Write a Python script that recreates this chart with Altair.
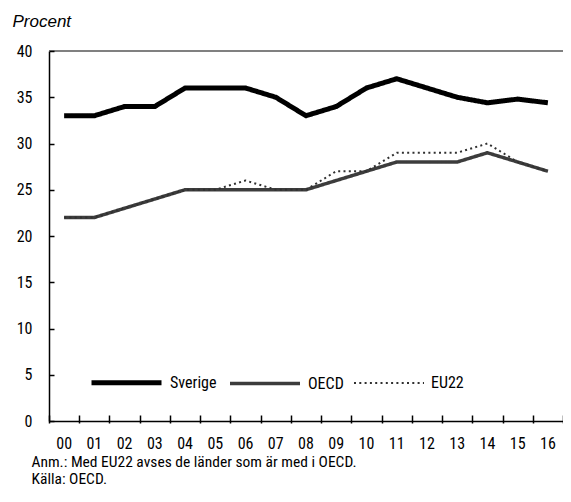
import altair as alt
import pandas as pd

years = ["00", "01", "02", "03", "04", "05", "06", "07", "08", "09",
         "10", "11", "12", "13", "14", "15", "16"]
sverige = [33, 33, 34, 34, 36, 36, 36, 35, 33, 34, 36, 37, 36, 35, 34.4, 34.8, 34.4]
oecd = [22, 22, 23, 24, 25, 25, 25, 25, 25, 26, 27, 28, 28, 28, 29, 28, 27]
eu22 = [22, 22, 23, 24, 25, 25, 26, 25, 25, 27, 27, 29, 29, 29, 30, 28, 27]
series = ["Sverige", "OECD", "EU22"]
series_colors = ["#000000", "#3c3c3c", "#303030"]
y_ticks = [0, 5, 10, 15, 20, 25, 30, 35, 40]
y_title = "Procent"
notes = ["Anm.: Med EU22 avses de länder som är med i OECD.", "Källa: OECD."]

rows = []
for name, vals in zip(series, [sverige, oecd, eu22]):
    for yr, v in zip(years, vals):
        rows.append({"year": yr, "value": v, "series": name})
df = pd.DataFrame(rows)
top_df = pd.DataFrame({"value": [y_ticks[-1]]})

FONT = "Roboto Condensed, DejaVu Sans Condensed, sans-serif"
TFONT = "Liberation Sans, Arial, sans-serif"

xscale = alt.Scale(type="band", domain=years, paddingInner=0, paddingOuter=0)
yscale = alt.Scale(domain=[0, 40], nice=False, zero=True)

lines = alt.Chart(df).mark_line(strokeJoin="round").encode(
    x=alt.X("year:O", scale=xscale, axis=alt.Axis(
        orient="bottom", title=notes, labelFont=FONT, labelFontSize=16,
        labelColor="black", labelPadding=14, ticks=False, tickSize=0,
        domainColor="black", domainWidth=1.5, labelAngle=0, grid=False,
        titleFont=FONT, titleFontSize=15.5, titleFontWeight="normal",
        titleColor="black", titleAlign="left", titleBaseline="alphabetic",
        titleX=-18, titleY=45, titleLineHeight=17, titleAnchor="start")),
    y=alt.Y("value:Q", scale=yscale, axis=alt.Axis(
        orient="left", values=y_ticks, title=y_title, labelFont=FONT,
        labelFontSize=16, labelColor="black", labelPadding=17, ticks=False,
        tickSize=0, domainColor="black", domainWidth=1.5, grid=False,
        titleFont=TFONT, titleFontSize=17, titleFontStyle="italic",
        titleFontWeight="normal", titleColor="black", titleAngle=0,
        titleAlign="left", titleBaseline="alphabetic", titleX=-37, titleY=-25)),
    color=alt.Color("series:N", scale=alt.Scale(domain=series, range=series_colors), title=None),
    strokeWidth=alt.StrokeWidth("series:N", scale=alt.Scale(domain=series, range=[5, 2, 2]), title=None),
    strokeDash=alt.StrokeDash("series:N", scale=alt.Scale(domain=series, range=[[1, 0], [1, 0], [2, 3.3]]), title=None),
)

toprule = alt.Chart(top_df).mark_rule(color="#808080", strokeWidth=2).encode(
    y=alt.Y("value:Q", scale=yscale, axis=alt.Axis(
        orient="left", offset=-5, values=y_ticks, tickSize=5, tickColor="black",
        tickWidth=1.5, labels=False, domain=False, title=None, grid=False, zindex=1)),
)

xticks = alt.Chart(df[df.series == "Sverige"]).mark_line(strokeOpacity=0).encode(
    x=alt.X("year:O", scale=xscale, axis=alt.Axis(
        orient="bottom", offset=-6, tickSize=8, tickBand="extent", tickColor="black",
        tickWidth=1.5, labels=False, domain=False, title=None, grid=False, zindex=1)),
    y=alt.Y("value:Q", scale=yscale, axis=None),
)

chart = alt.layer(lines, toprule, xticks).resolve_axis(
    x="independent", y="independent"
).properties(
    width=514, height=370, autosize="none",
    padding={"left": 41, "top": 43, "right": 0, "bottom": 67},
).configure_view(strokeWidth=0).configure_legend(
    orient="none", legendX=40, legendY=294, direction="horizontal",
    symbolType="stroke", symbolSize=4900, labelFont=FONT, labelFontSize=16,
    labelColor="black", labelOffset=6, columnPadding=6, padding=0,
)

chart.save("out.html", embed_options={"renderer": "svg", "actions": False})
